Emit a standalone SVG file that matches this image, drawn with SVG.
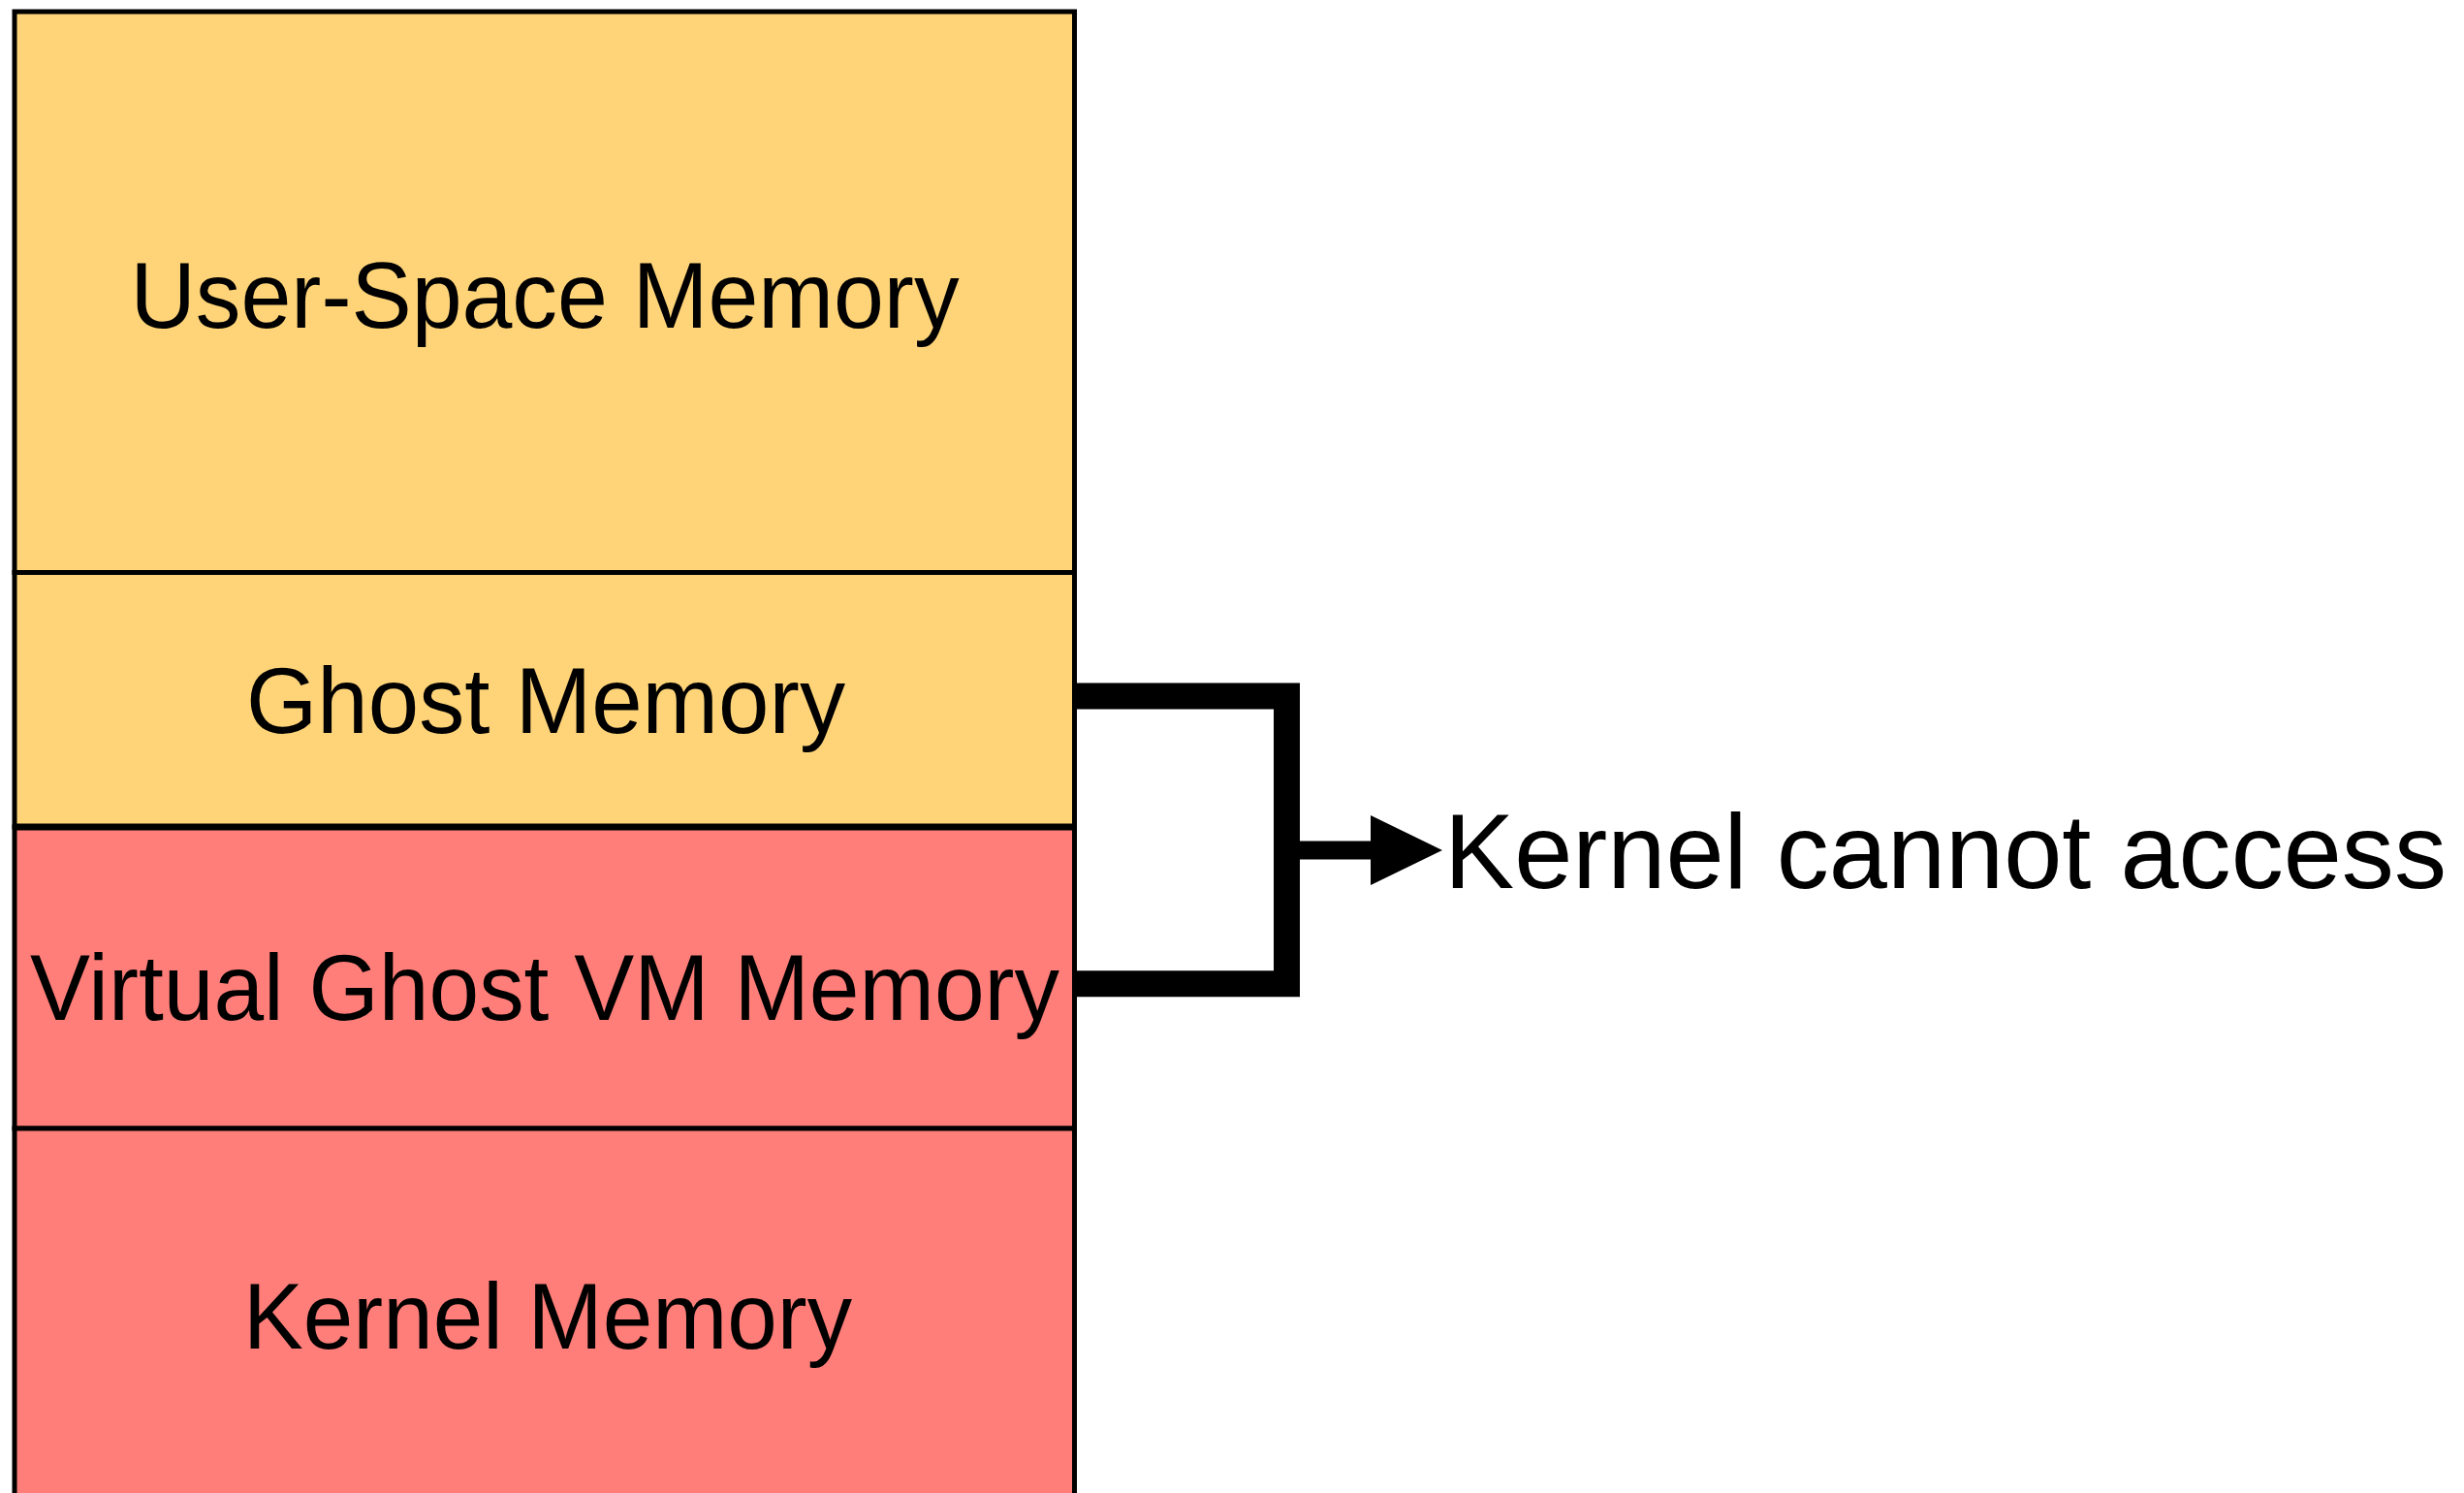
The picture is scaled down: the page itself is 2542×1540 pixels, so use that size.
<svg xmlns="http://www.w3.org/2000/svg" width="2542" height="1540" viewBox="0 0 2542 1540">
<style>
.box{stroke:#000;stroke-width:5}
.yellow{fill:#FFD479}
.red{fill:#FF7E79}
.lbl{font-family:"Liberation Sans",Arial,Helvetica,sans-serif;font-size:96px;fill:#000;text-anchor:middle}
.big{font-family:"Liberation Sans",Arial,Helvetica,sans-serif;font-size:109px;fill:#000}
.conn{fill:none;stroke:#000;stroke-linejoin:miter;stroke-linecap:butt}
</style>
<rect width="2542" height="1540" fill="#fff"/>
<g id="user-space">
<rect class="box yellow" x="15" y="12" width="1093.5" height="578.5"/>
<text class="lbl" x="562" y="338" textLength="855" lengthAdjust="spacingAndGlyphs">User-Space Memory</text>
</g>
<g id="ghost">
<rect class="box yellow" x="15" y="590.5" width="1093.5" height="262.5"/>
<text class="lbl" x="563" y="756" textLength="618" lengthAdjust="spacingAndGlyphs">Ghost Memory</text>
</g>
<g id="vg-vm">
<rect class="box red" x="15" y="853" width="1093.5" height="311"/>
<line x1="15" y1="853" x2="1108.5" y2="853" stroke="#000" stroke-width="7"/>
<text class="lbl" x="562" y="1052" textLength="1062" lengthAdjust="spacingAndGlyphs">Virtual Ghost VM Memory</text>
</g>
<g id="kernel">
<rect class="box red" x="15" y="1164" width="1093.5" height="400"/>
<text class="lbl" x="565" y="1391" textLength="628" lengthAdjust="spacingAndGlyphs">Kernel Memory</text>
</g>
<g id="connectors">
<path class="conn" d="M1110 718 H1327.5 V1014.7 H1110" stroke-width="27"/>
<line class="conn" x1="1341" y1="877" x2="1416" y2="877" stroke-width="19"/>
<polygon points="1414,841 1488,877 1414,913" fill="#000"/>
</g>
<g id="kernel-cannot-access">
<text class="big" x="1490" y="916" textLength="1034" lengthAdjust="spacingAndGlyphs">Kernel cannot access</text>
</g>
</svg>
